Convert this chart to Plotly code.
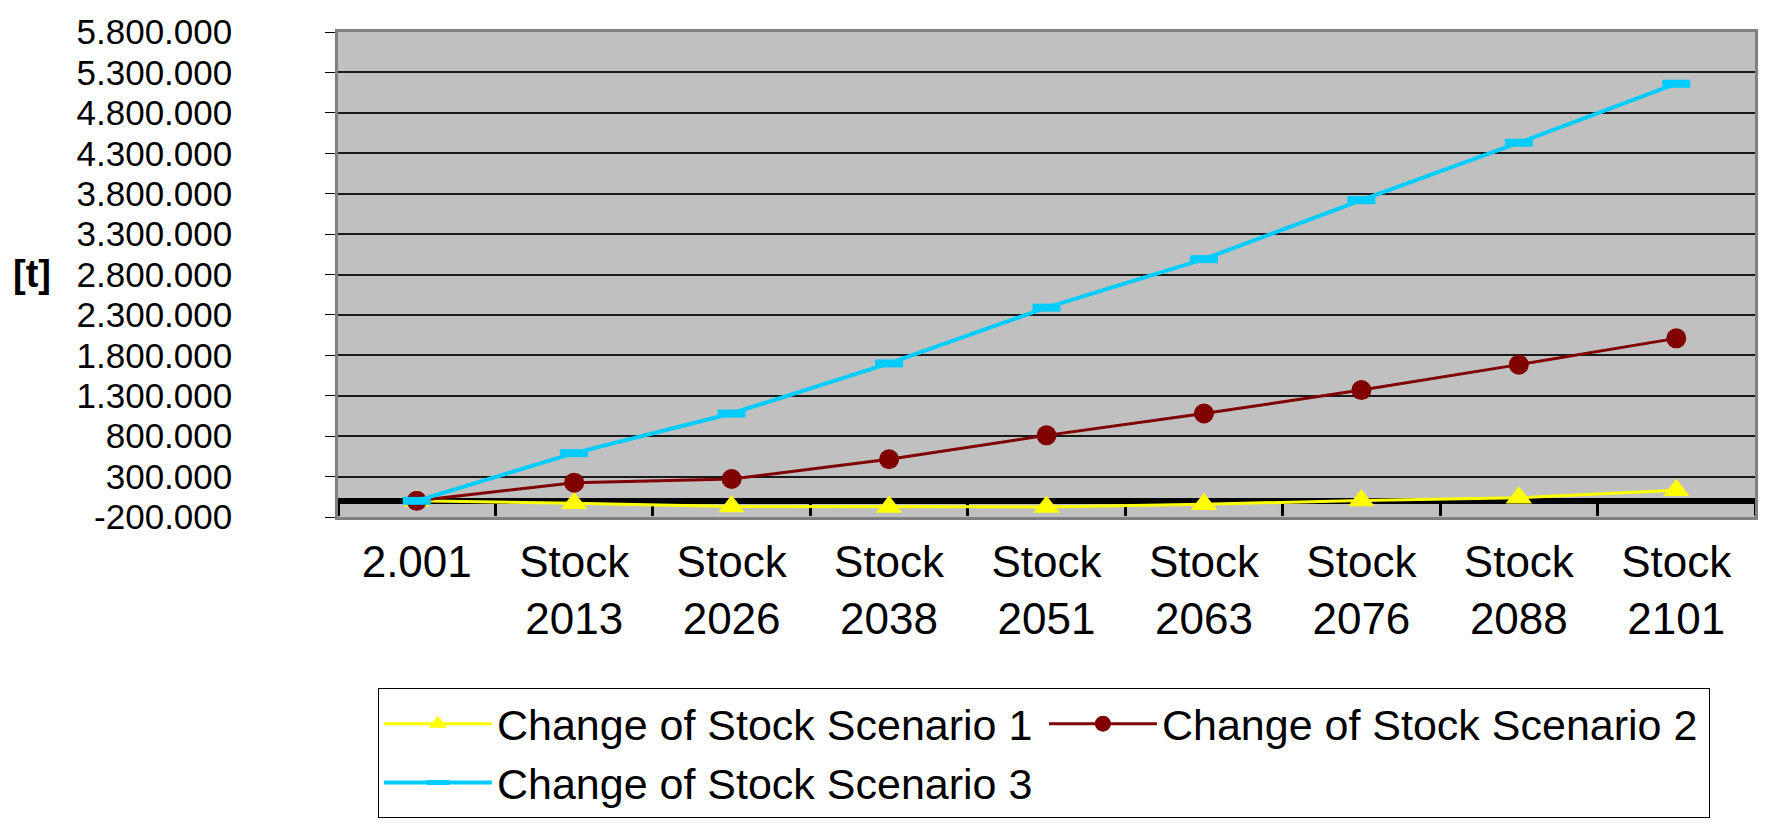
import plotly.graph_objects as go

categories = ["2.001", "Stock<br>2013", "Stock<br>2026", "Stock<br>2038", "Stock<br>2051",
              "Stock<br>2063", "Stock<br>2076", "Stock<br>2088", "Stock<br>2101"]
scenario1 = [0, -30000, -70000, -75000, -75000, -42000, 5000, 38000, 132000]
scenario2 = [0, 225000, 270000, 515000, 810000, 1080000, 1370000, 1685000, 2010000]
scenario3 = [0, 590000, 1080000, 1700000, 2390000, 2990000, 3720000, 4430000, 5160000]
series_names = ["Change of Stock Scenario 1", "Change of Stock Scenario 2", "Change of Stock Scenario 3"]
y_tick_values = [-200000, 300000, 800000, 1300000, 1800000, 2300000, 2800000, 3300000,
                 3800000, 4300000, 4800000, 5300000, 5800000]
y_tick_labels = ["-200.000", "300.000", "800.000", "1.300.000", "1.800.000", "2.300.000",
                 "2.800.000", "3.300.000", "3.800.000", "4.300.000", "4.800.000",
                 "5.300.000", "5.800.000"]
y_title = "[t]"

FONT = "Liberation Sans, Arial, sans-serif"
Y_MIN, Y_MAX = -200000, 5800000
M_L, M_R, M_T, M_B = 338, 12, 24, 320
W, H = 1770, 837
PW, PH = W - M_L - M_R, H - M_T - M_B

fig = go.Figure()
fig.add_trace(go.Scatter(
    x=categories, y=scenario1, name=series_names[0], mode="lines+markers",
    line=dict(color="#FFFF00", width=3),
    marker=dict(symbol="triangle-up", size=23, color="#FFFF00"),
))
fig.add_trace(go.Scatter(
    x=categories, y=scenario2, name=series_names[1], mode="lines+markers",
    line=dict(color="#800000", width=3),
    marker=dict(symbol="circle", size=20, color="#800000"),
))
fig.add_trace(go.Scatter(
    x=categories, y=scenario3, name=series_names[2], mode="lines+markers",
    line=dict(color="#00CCFF", width=4),
    marker=dict(symbol="line-ew", size=20, color="#00CCFF",
                line=dict(color="#00CCFF", width=8)),
))

n = len(categories)
zero_pos = (0 - Y_MIN) / (Y_MAX - Y_MIN)

# invisible helper trace so the zero-crossing axis (ticks at category boundaries) is drawn
fig.add_trace(go.Scatter(
    x=[0], y=[0], xaxis="x2", yaxis="y", mode="markers",
    marker=dict(opacity=0), showlegend=False, hoverinfo="skip",
))

fig.update_layout(
    width=W, height=H,
    margin=dict(l=M_L, r=M_R, t=M_T, b=M_B),
    paper_bgcolor="white",
    plot_bgcolor="#C0C0C0",
    font=dict(family=FONT, color="black"),
    showlegend=True,
    legend=dict(
        orientation="h",
        x=(378 - M_L) / PW, xanchor="left",
        y=-(691 - (H - M_B)) / PH, yanchor="top",
        font=dict(size=43, family=FONT, color="black"),
        bordercolor="black", borderwidth=1, bgcolor="white",
        entrywidth=542, entrywidthmode="pixels",
        itemwidth=108,
        traceorder="normal",
    ),
    xaxis=dict(
        type="category",
        range=[-0.5, n - 0.5],
        showgrid=False, zeroline=False,
        ticks="", showline=True, linecolor="#808080", linewidth=2.5, mirror=True,
        tickfont=dict(size=44, family=FONT, color="black"),
        ticklabelstandoff=4,
    ),
    xaxis2=dict(
        overlaying="x", anchor="free", position=zero_pos,
        range=[-0.5, n - 0.5],
        tickvals=[i - 0.5 for i in range(n + 1)],
        showticklabels=False,
        ticks="outside", ticklen=12, tickwidth=3, tickcolor="black",
        showline=True, linecolor="black", linewidth=5,
        showgrid=False, zeroline=False,
        layer="below traces",
    ),
    yaxis=dict(
        range=[Y_MIN, Y_MAX],
        tickvals=y_tick_values, ticktext=y_tick_labels,
        tickfont=dict(size=35, family=FONT, color="black"),
        ticks="outside", ticklen=10, tickcolor="black", tickwidth=1,
        showgrid=True, gridcolor="#1a1a1a", gridwidth=1.5,
        zeroline=True, zerolinecolor="black", zerolinewidth=5,
        showline=True, linecolor="#808080", linewidth=2.5, mirror=True,
        ticklabelstandoff=86,
    ),
    annotations=[dict(
        text="<b>" + y_title + "</b>", xref="paper", yref="paper",
        x=-(M_L - 31) / PW, y=((H - M_B) - 270) / PH,
        xanchor="center", yanchor="middle", showarrow=False,
        font=dict(size=38, family=FONT, color="black"),
    )],
)

fig.write_html("out.html")
